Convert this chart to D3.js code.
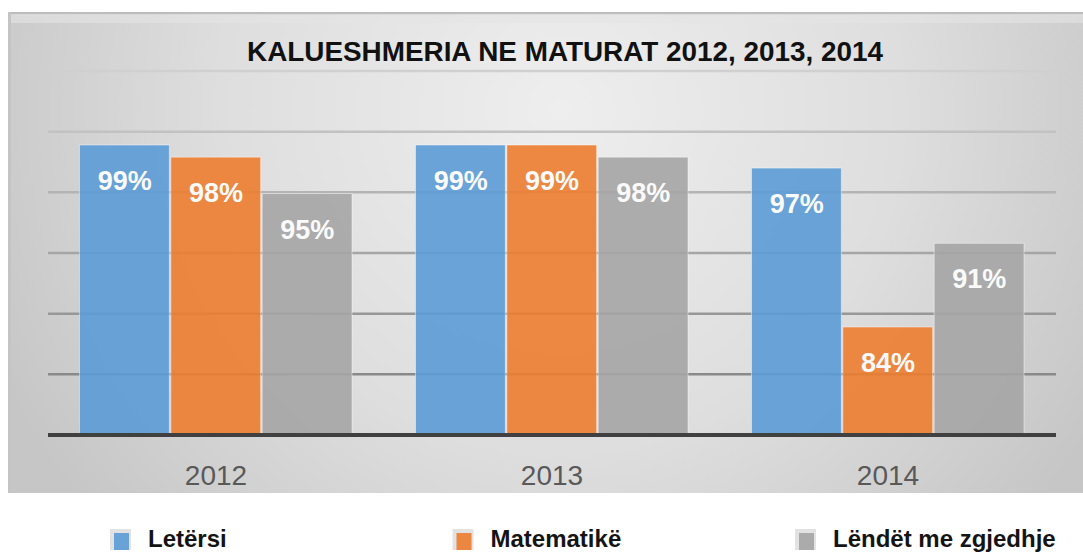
<!DOCTYPE html>
<html>
<head>
<meta charset="utf-8">
<script src="https://cdn.jsdelivr.net/npm/d3@7"></script>
<style>
  html, body { margin: 0; padding: 0; background: #fff; }
  svg { display: block; }
</style>
</head>
<body>
<div id="chart"></div>
<script>
// data
var years = ["2012", "2013", "2014"];
var series = ["Letërsi", "Matematikë", "Lëndët me zgjedhje"];
var letersi = [98.9, 98.9, 97.0];
var matematike = [97.9, 98.9, 83.9];
var zgjedhje = [94.9, 97.9, 90.8];
var gridTicks = [80, 85, 90, 95, 100, 105];
var colors = ["#5b9bd5", "#ed7d31", "#a5a5a5"];
var title = "KALUESHMERIA NE MATURAT 2012, 2013, 2014";

var W = 1083, H = 553;
var svg = d3.select("#chart").append("svg").attr("width", W).attr("height", H);

var defs = svg.append("defs");
var bg = defs.append("radialGradient").attr("id", "bg")
  .attr("gradientUnits", "userSpaceOnUse")
  .attr("cx", 560).attr("cy", 110).attr("r", 620);
bg.append("stop").attr("offset", "0%").attr("stop-color", "#eeeeee");
bg.append("stop").attr("offset", "55%").attr("stop-color", "#dedede");
bg.append("stop").attr("offset", "100%").attr("stop-color", "#c6c6c6");

var gridGrad = defs.append("linearGradient").attr("id", "gridGrad")
  .attr("gradientUnits", "userSpaceOnUse")
  .attr("x1", 0).attr("y1", 71).attr("x2", 0).attr("y2", 380);
gridGrad.append("stop").attr("offset", "0%").attr("stop-color", "#d0d0d0");
gridGrad.append("stop").attr("offset", "100%").attr("stop-color", "#888888");

// panel
svg.append("rect").attr("x", 8).attr("y", 12).attr("width", W - 8).attr("height", 481)
  .attr("fill", "url(#bg)");
svg.append("rect").attr("x", 8).attr("y", 12).attr("width", W - 8).attr("height", 2.5)
  .attr("fill", "#bdbdbd");
svg.append("rect").attr("x", 8).attr("y", 14).attr("width", W - 8).attr("height", 9)
  .attr("fill", "#e4e4e4").attr("opacity", 0.6);
svg.append("rect").attr("x", 8).attr("y", 12).attr("width", 3).attr("height", 481)
  .attr("fill", "#c4c4c4");

// scales
var x = d3.scaleBand().domain(years).range([48, 1056]);
var xs = d3.scaleBand().domain(series).range([31, 305]);
var y = d3.scaleLinear().domain([75, 105]).range([435, 71]);

// gridlines
svg.append("g").selectAll("line").data(gridTicks).join("line")
  .attr("x1", 48).attr("x2", 1056)
  .attr("y1", function(d) { return y(d); }).attr("y2", function(d) { return y(d); })
  .attr("stroke", "url(#gridGrad)").attr("stroke-width", 2.5);

// title
svg.append("text").attr("x", 565).attr("y", 61)
  .attr("text-anchor", "middle")
  .attr("font-family", "Liberation Sans, Arial, sans-serif")
  .attr("font-weight", "bold").attr("font-size", 27)
  .attr("textLength", 636).attr("lengthAdjust", "spacingAndGlyphs")
  .attr("fill", "#111").text(title);

var rows = years.map(function(yr, i) {
  return { year: yr, vals: [letersi[i], matematike[i], zgjedhje[i]] };
});

var groups = svg.append("g").selectAll("g").data(rows).join("g")
  .attr("transform", function(d) { return "translate(" + x(d.year) + ",0)"; });

var bars = groups.selectAll("g.bar").data(function(d) {
  return d.vals.map(function(v, j) { return { s: series[j], v: v, c: colors[j] }; });
}).join("g").attr("class", "bar");

bars.append("rect")
  .attr("x", function(d) { return xs(d.s) + 0.5; })
  .attr("width", xs.bandwidth() - 1.5)
  .attr("y", function(d) { return y(d.v); })
  .attr("height", function(d) { return y(75) - y(d.v); })
  .attr("fill", function(d) { return d.c; })
  .attr("fill-opacity", 0.9)
  .attr("stroke", "rgba(255,255,255,0.45)").attr("stroke-width", 1);

bars.append("text")
  .attr("x", function(d) { return xs(d.s) + xs.bandwidth() / 2; })
  .attr("y", function(d) { return y(d.v) + 45; })
  .attr("text-anchor", "middle")
  .attr("font-family", "Liberation Sans, Arial, sans-serif")
  .attr("font-weight", "bold").attr("font-size", 27)
  .attr("fill", "#fafafa")
  .text(function(d) { return Math.round(d.v) + "%"; });

// baseline
svg.append("line").attr("x1", 48).attr("x2", 1056)
  .attr("y1", y(75)).attr("y2", y(75))
  .attr("stroke", "#404040").attr("stroke-width", 4);

// category labels
svg.append("g").selectAll("text").data(years).join("text")
  .attr("x", function(d) { return x(d) + x.bandwidth() / 2; })
  .attr("y", 485)
  .attr("text-anchor", "middle")
  .attr("font-family", "Liberation Sans, Arial, sans-serif")
  .attr("font-size", 28).attr("fill", "#595959")
  .text(function(d) { return d; });

// legend
var lx = d3.scalePoint().domain(series).range([110, 795]);
var leg = svg.append("g").selectAll("g").data(series).join("g")
  .attr("transform", function(d) { return "translate(" + lx(d) + ",529)"; });
leg.append("rect").attr("x", 0).attr("y", 0).attr("width", 21).attr("height", 21)
  .attr("fill", "#e2e2e2");
leg.append("rect").attr("x", 4).attr("y", 4).attr("width", 15).attr("height", 17)
  .attr("fill", function(d, i) { return colors[i]; }).attr("fill-opacity", 0.9);
leg.append("text").attr("x", 38).attr("y", 18)
  .attr("font-family", "Liberation Sans, Arial, sans-serif")
  .attr("font-weight", "bold").attr("font-size", 24)
  .attr("fill", "#141414")
  .text(function(d) { return d; });
</script>
</body>
</html>
